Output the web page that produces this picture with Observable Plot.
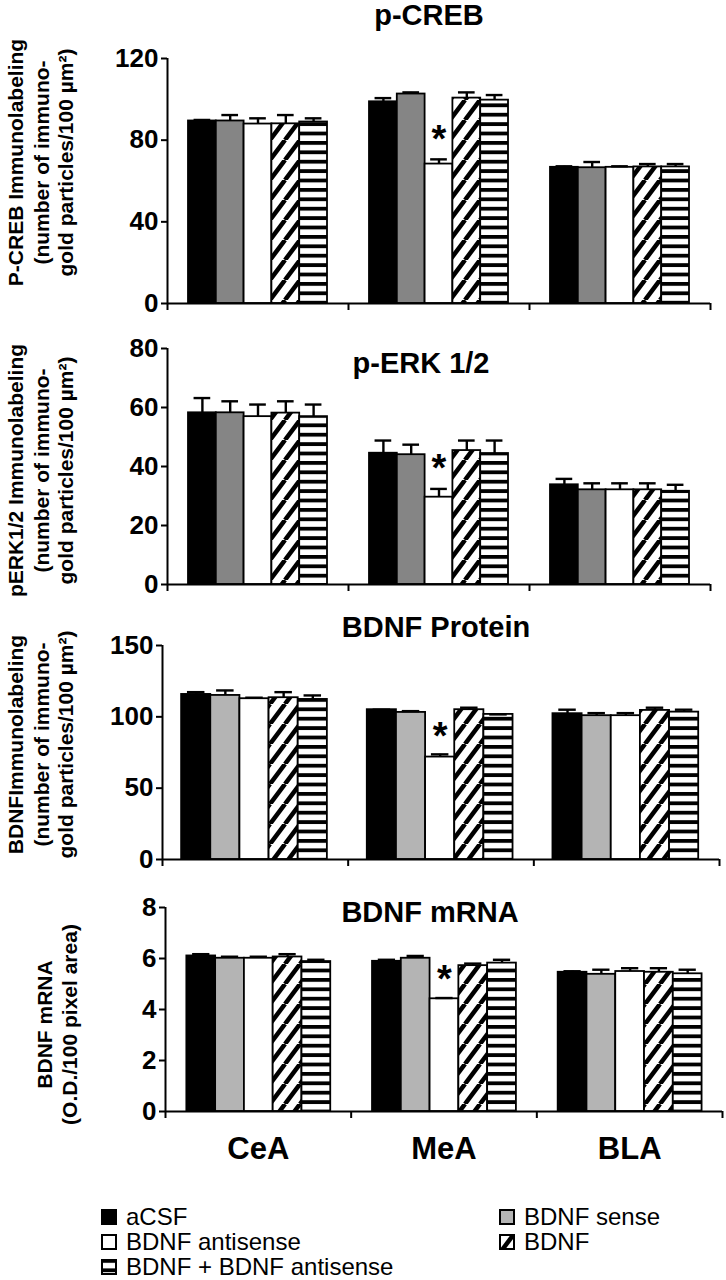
<!DOCTYPE html>
<html>
<head>
<meta charset="utf-8">
<script src="https://cdn.jsdelivr.net/npm/d3@7"></script>
<script src="https://cdn.jsdelivr.net/npm/@observablehq/plot@0.6"></script>
<style>
  html, body { margin: 0; padding: 0; background: #fff; }
  #wrap { position: relative; width: 726px; height: 1280px; font-family: "Liberation Sans", Arial, sans-serif; }
  .panel { position: absolute; left: 0; }
  .legend { position: absolute; left: 0; top: 1205px; width: 726px; height: 75px; }
  .item { position: absolute; display: flex; align-items: center; height: 24px; line-height: 24px; font-size: 24px; color: #000; white-space: nowrap; }
  .item svg { margin-right: 9px; flex: none; }
</style>
</head>
<body>
<svg width="0" height="0" style="position:absolute">
  <defs>
    <pattern id="diag" patternUnits="userSpaceOnUse" width="15" height="20">
      <rect width="15" height="20" fill="white"></rect>
      <path d="M0,20 L15,0 M-15,20 L0,0 M15,20 L30,0" stroke="black" stroke-width="4.5"></path>
    </pattern>
    <pattern id="hstripe" patternUnits="userSpaceOnUse" width="10" height="9.4">
      <rect width="10" height="9.4" fill="white"></rect>
      <rect y="0" width="10" height="3.8" fill="black"></rect>
    </pattern>
  </defs>
</svg>
<div id="wrap"></div>
<script>
// ---------- data ----------
const regions = ["CeA", "MeA", "BLA"];
const treatments = ["aCSF", "BDNF sense", "BDNF antisense", "BDNF", "BDNF + BDNF antisense"];
const significant = { region: "MeA", treatment: "BDNF antisense" };

// rows: regions (CeA, MeA, BLA); columns: treatments in the order above
const pcrebMean = [[89.4, 89.4, 87.9, 88.0, 88.9], [98.8, 102.6, 68.3, 100.6, 99.6], [66.7, 66.5, 66.7, 66.9, 66.9]];
const pcrebTop  = [[89.9, 92.3, 90.7, 92.3, 90.7], [100.6, 103.4, 70.6, 103.4, 102.1], [67.2, 69.3, 67.2, 68.3, 68.3]];

const perkMean = [[58.2, 58.2, 56.9, 58.1, 56.9], [44.5, 44.0, 29.6, 45.4, 44.4], [33.8, 32.1, 32.1, 32.1, 31.6]];
const perkTop  = [[63.2, 62.1, 61.0, 62.1, 61.0], [48.8, 47.4, 32.4, 48.8, 48.8], [35.8, 34.3, 34.3, 34.3, 33.8]];

const protMean = [[115.7, 115.0, 112.7, 113.4, 112.2], [105.0, 103.1, 71.8, 105.0, 101.7], [102.2, 100.8, 100.8, 104.5, 103.3]];
const protTop  = [[117.3, 118.5, 113.4, 117.3, 115.0], [105.0, 104.0, 73.7, 106.4, 101.7], [105.0, 102.6, 102.6, 106.4, 105.0]];

const mrnaMean = [[6.10, 6.01, 6.01, 6.06, 5.88], [5.89, 6.01, 4.42, 5.72, 5.82], [5.46, 5.38, 5.49, 5.46, 5.40]];
const mrnaTop  = [[6.17, 6.07, 6.07, 6.17, 5.95], [5.95, 6.10, 4.45, 5.80, 5.95], [5.50, 5.56, 5.62, 5.62, 5.56]];

const pcrebTicks = [0, 40, 80, 120];
const perkTicks = [0, 20, 40, 60, 80];
const protTicks = [0, 50, 100, 150];
const mrnaTicks = [0, 2, 4, 6, 8];

const titles = ["p-CREB", "p-ERK 1/2", "BDNF Protein", "BDNF mRNA"];
const yLabels = [
  ["P-CREB Immunolabeling", "(number of immuno-", "gold particles/100 µm²)"],
  ["pERK1/2 Immunolabeling", "(number of immuno-", "gold particles/100 µm²)"],
  ["BDNFImmunolabeling", "(number of immuno-", "gold particles/100 µm²)"],
  ["BDNF mRNA", "(O.D./100 pixel area)"]
];

// ---------- drawing ----------
const FONT = "Liberation Sans, Arial, Helvetica, sans-serif";
const wrap = document.getElementById("wrap");

function buildRows(mean, top) {
  const rows = [];
  regions.forEach((region, ri) => treatments.forEach((treatment, ti) => {
    rows.push({ region, treatment, ri, ti, mean: mean[ri][ti], top: top[ri][ti] });
  }));
  return rows;
}

function panel(cfg) {
  const rows = buildRows(cfg.mean, cfg.top);
  const { pad, bw } = cfg;
  const x1 = d => d.ri + pad + d.ti * bw;
  const x2 = d => d.ri + pad + (d.ti + 1) * bw;
  const xc = d => d.ri + pad + (d.ti + 0.5) * bw;
  const cap = bw * 0.3;
  const fills = ["black", cfg.senseFill, "white", "url(#diag)", "url(#hstripe)"];
  const frameH = cfg.height - cfg.mt - cfg.mb;
  const marks = [];
  treatments.forEach((t, ti) => {
    marks.push(Plot.rectY(rows.filter(d => d.ti === ti), {
      x1, x2, y1: 0, y2: "mean", fill: fills[ti], stroke: "black", strokeWidth: 1.8
    }));
  });
  marks.push(
    Plot.ruleX(rows, { x: xc, y1: "mean", y2: "top", stroke: "black", strokeWidth: 2.4 }),
    Plot.ruleY(rows, { y: "top", x1: d => xc(d) - cap, x2: d => xc(d) + cap, stroke: "black", strokeWidth: 2.4 }),
    Plot.text(rows.filter(d => d.region === significant.region && d.treatment === significant.treatment), {
      x: xc, y: "top", text: () => "*", lineAnchor: "middle", dy: -cfg.starDy, fontSize: 38, fontWeight: "bold"
    }),
    Plot.ruleX([0], { stroke: "black", strokeWidth: 2 }),
    Plot.ruleY([0], { stroke: "black", strokeWidth: 2 }),
    Plot.axisY({ ticks: cfg.ticks, tickSize: 6, tickPadding: 3, tickFormat: d => String(d), fontSize: cfg.tickFont, fontWeight: "bold", strokeWidth: 2 }),
    Plot.axisX({ ticks: [0, 1, 2, 3], tickSize: 7, tickFormat: () => "", strokeWidth: 2 }),
    Plot.text([cfg.title], { text: d => d, frameAnchor: "top", dx: cfg.titleDx, dy: cfg.titleDy, lineAnchor: "middle", fontSize: 29, fontWeight: "bold" })
  );
  if (cfg.showRegions) {
    marks.push(Plot.axisX({
      ticks: regions.map((r, i) => i + 0.5), tickSize: 0, tickPadding: cfg.regionPad,
      tickFormat: v => regions[Math.floor(v)], fontSize: 31, fontWeight: "bold"
    }));
  }
  cfg.label.forEach((line, i) => {
    marks.push(Plot.text([line], {
      text: d => d, frameAnchor: "left", rotate: -90, textAnchor: "middle", lineAnchor: "middle",
      dx: cfg.labelX[i] - cfg.ml, dy: cfg.labelY - (cfg.mt + frameH / 2),
      fontSize: 21, fontWeight: "bold"
    }));
  });
  const svg = Plot.plot({
    width: 726,
    height: cfg.height,
    marginTop: cfg.mt, marginBottom: cfg.mb, marginLeft: cfg.ml, marginRight: cfg.mr,
    x: { domain: [0, 3] },
    y: { domain: cfg.domain },
    style: { fontFamily: FONT, color: "black", background: "white", overflow: "visible" },
    marks
  });
  const box = document.createElement("div");
  box.className = "panel";
  box.style.top = cfg.offset + "px";
  box.appendChild(svg);
  wrap.appendChild(box);
}

panel({ title: titles[0], mean: pcrebMean, top: pcrebTop, domain: [0, 120], ticks: pcrebTicks, label: yLabels[0],
  senseFill: "#858585", offset: 0, height: 320, mt: 58, mb: 17, ml: 167, mr: 16, pad: 0.116, bw: 0.1536,
  titleDx: -10, titleDy: -43, starDy: 20, tickFont: 26, labelX: [16, 42, 66], labelY: 162 });

panel({ title: titles[1], mean: perkMean, top: perkTop, domain: [0, 80], ticks: perkTicks, label: yLabels[1],
  senseFill: "#858585", offset: 320, height: 284, mt: 28, mb: 20, ml: 167, mr: 16, pad: 0.116, bw: 0.1536,
  titleDx: -18, titleDy: 15, starDy: 20, tickFont: 26, labelX: [16, 42, 66], labelY: 150 });

panel({ title: titles[2], mean: protMean, top: protTop, domain: [0, 150], ticks: protTicks, label: yLabels[2],
  senseFill: "#b4b4b4", offset: 604, height: 280, mt: 41, mb: 25, ml: 162, mr: 7, pad: 0.103, bw: 0.157,
  titleDx: -5, titleDy: -18, starDy: 18, tickFont: 26, labelX: [16, 42, 66], labelY: 140 });

panel({ title: titles[3], mean: mrnaMean, top: mrnaTop, domain: [0, 8], ticks: mrnaTicks, label: yLabels[3],
  senseFill: "#b4b4b4", offset: 884, height: 300, mt: 23, mb: 73, ml: 165, mr: 4, pad: 0.115, bw: 0.155,
  titleDx: -14, titleDy: 5, starDy: 18, tickFont: 26, labelX: [45, 70], labelY: 140, showRegions: true, regionPad: 25 });

// ---------- legend ----------
const legendFills = ["black", "#b4b4b4", "white", "url(#diag)", "url(#hstripe)"];
const legendPos = [
  { left: 101, top: 0 }, { left: 499, top: 0 },
  { left: 101, top: 25 }, { left: 499, top: 25 },
  { left: 101, top: 50 }
];
const legend = document.createElement("div");
legend.className = "legend";
treatments.forEach((t, i) => {
  const item = document.createElement("div");
  item.className = "item";
  item.style.left = legendPos[i].left + "px";
  item.style.top = legendPos[i].top + "px";
  item.innerHTML = `<svg width="16" height="16"><rect x="1" y="1" width="14" height="14" fill="${legendFills[i]}" stroke="black" stroke-width="2"></rect></svg><span>${t}</span>`;
  legend.appendChild(item);
});
wrap.appendChild(legend);
</script>
</body>
</html>
